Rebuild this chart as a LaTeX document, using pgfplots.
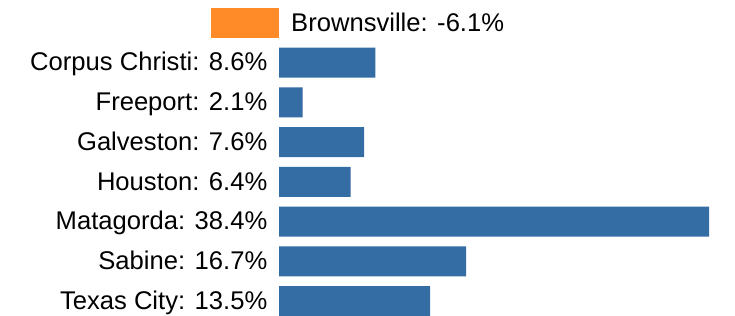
\documentclass[border=0pt]{standalone}
\usepackage{fontspec}
\setmainfont{Liberation Sans}
\usepackage{pgfplots}
\pgfplotsset{compat=1.18}
\definecolor{barblue}{RGB}{52,108,164}
\definecolor{barorange}{RGB}{255,138,40}
\begin{document}
\begin{tikzpicture}
\begin{axis}[
  scale only axis,
  width=735bp, height=316bp,
  xmin=-24.915, xmax=40.72,
  ymin=-0.574, ymax=7.376,
  y dir=reverse,
  hide axis,
  clip=false,
]
\path[use as bounding box] (rel axis cs:0,0) rectangle (rel axis cs:1,1);
\addplot[xbar, bar shift=0pt, bar width=30bp, fill=barblue, draw=none]
  coordinates {(8.6,1) (2.1,2) (7.6,3) (6.4,4) (38.4,5) (16.7,6) (13.5,7)};
\addplot[xbar, bar shift=0pt, bar width=30bp, fill=barorange, draw=none]
  coordinates {(-6.1,0)};
\addplot[draw=none, mark=none, point meta=explicit symbolic,
  nodes near coords,
  every node near coord/.style={anchor=base east, xshift=-11.5bp, yshift=-8.3bp, inner sep=0pt,
    font=\fontsize{25.6bp}{30bp}\selectfont, text=black}]
  table[col sep=comma, x=x, y=y, meta=label] {
x,y,label
0,1,Corpus Christi: 8.6\%
0,2,Freeport: 2.1\%
0,3,Galveston: 7.6\%
0,4,Houston: 6.4\%
0,5,Matagorda: 38.4\%
0,6,Sabine: 16.7\%
0,7,Texas City: 13.5\%
};
\addplot[draw=none, mark=none, point meta=explicit symbolic,
  nodes near coords,
  every node near coord/.style={anchor=base west, xshift=12bp, yshift=-8.3bp, inner sep=0pt,
    font=\fontsize{25.6bp}{30bp}\selectfont, text=black}]
  table[col sep=comma, x=x, y=y, meta=label] {
x,y,label
0,0,Brownsville: -6.1\%
};
\end{axis}
\end{tikzpicture}
\end{document}
